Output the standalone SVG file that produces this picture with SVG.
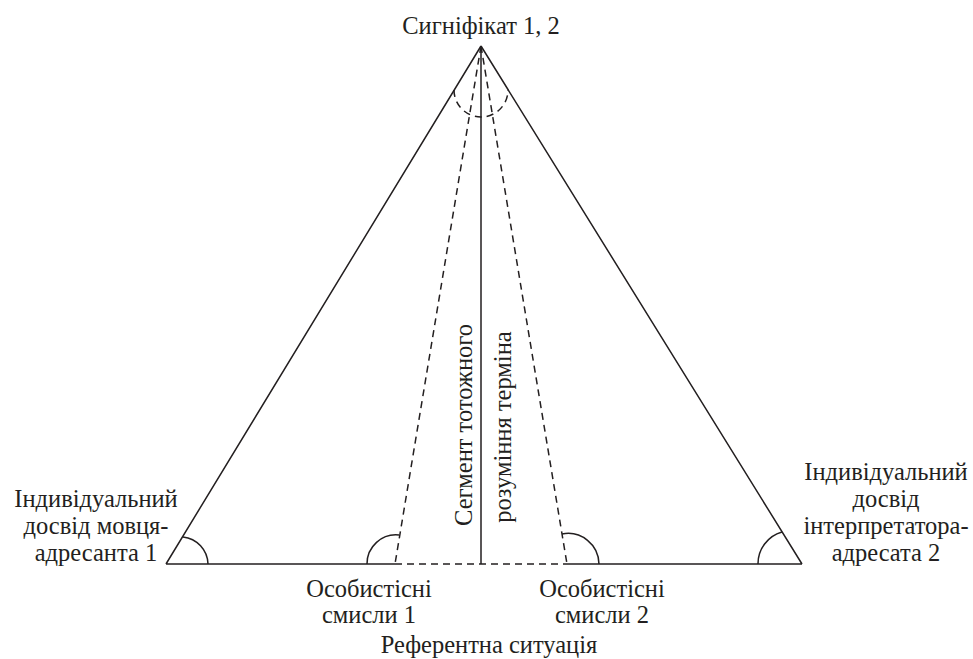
<svg xmlns="http://www.w3.org/2000/svg" width="973" height="659" viewBox="0 0 973 659">
<style>
.t{font-family:"Liberation Serif","Times New Roman",serif;font-size:24.5px;fill:#231f20;text-anchor:middle}
.s{fill:none;stroke:#231f20;stroke-width:1.5}
.d{fill:none;stroke:#231f20;stroke-width:1.5;stroke-dasharray:7 5}
</style>
<rect width="973" height="659" fill="#ffffff"/>
<g id="connectors">
<path class="s" d="M481 46 L166 564 M481 46 L802 564 M481 46 L481 564 M166 564 L395 564 M567 564 L802 564"/>
<path class="d" d="M481 46 L395 564 M481 46 L567 564 M395 564 L567 564"/>
<path class="d" d="M454 90 A27 27 0 0 0 508 90"/>
<path class="s" d="M183 537 A28 28 0 0 1 208 564"/>
<path class="s" d="M367 564 A29 29 0 0 1 399 535"/>
<path class="s" d="M562 534 A31 31 0 0 1 599 564"/>
<path class="s" d="M758 564 A33 33 0 0 1 782 532"/>
</g>
<g id="signifikat"><text class="t" x="481" y="34">Сигніфікат 1, 2</text></g>
<g id="dosvid1">
<text class="t" x="96" y="507">Індивідуальний</text>
<text class="t" x="96" y="534">досвід мовця-</text>
<text class="t" x="96" y="561">адресанта 1</text>
</g>
<g id="dosvid2">
<text class="t" x="886" y="480">Індивідуальний</text>
<text class="t" x="886" y="507">досвід</text>
<text class="t" x="886" y="534">інтерпретатора-</text>
<text class="t" x="886" y="561">адресата 2</text>
</g>
<g id="smysly1">
<text class="t" x="369" y="597">Особистісні</text>
<text class="t" x="369" y="623">смисли 1</text>
</g>
<g id="smysly2">
<text class="t" x="602" y="597">Особистісні</text>
<text class="t" x="602" y="623">смисли 2</text>
</g>
<g id="referent"><text class="t" x="489" y="653">Референтна ситуація</text></g>
<g id="segment">
<text class="t" transform="translate(472,425) rotate(-90)">Сегмент тотожного</text>
<text class="t" transform="translate(511,427) rotate(-90)">розуміння терміна</text>
</g>
</svg>
